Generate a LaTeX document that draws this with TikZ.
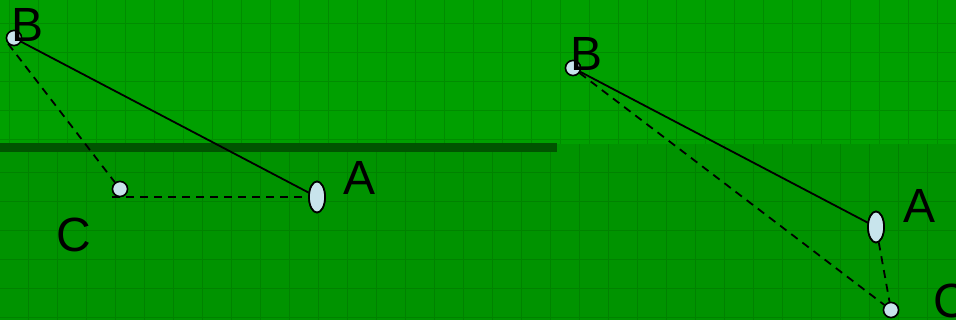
\documentclass[tikz,border=0pt]{standalone}
\usepackage{fontspec}
\setmainfont{Liberation Sans}
\usetikzlibrary{shapes.geometric}
\definecolor{bgup}{RGB}{0,160,0}
\definecolor{bglow}{RGB}{0,147,0}
\definecolor{gridup}{RGB}{0,140,0}
\definecolor{gridlow}{RGB}{0,130,0}
\definecolor{band}{RGB}{0,84,0}
\definecolor{pt}{RGB}{200,228,236}
\tikzset{
  dot/.style={circle,draw=black,line width=1.5pt,fill=pt,minimum size=15pt,inner sep=0pt},
  oval/.style={ellipse,draw=black,line width=1.7pt,fill=pt,minimum width=16pt,minimum height=31pt,inner sep=0pt},
  lbl/.style={font=\fontsize{48}{48}\selectfont,inner sep=0pt,text=black},
  link/.style={black,line width=1.8pt},
  dlink/.style={black,line width=1.8pt,dash pattern=on 8pt off 6pt}
}
\begin{document}
\begin{tikzpicture}[x=1pt,y=-1pt]
\useasboundingbox (0,0) rectangle (956,320);
% background
\fill[bgup] (0,0) rectangle (956,144);
\fill[bglow] (0,144) rectangle (956,320);
\begin{scope}
\clip (0,0) rectangle (956,144);
\foreach \x in {9,38,...,960} \draw[gridup,line width=1pt] (\x,0) -- (\x,144);
\foreach \y in {24,53,...,140} \draw[gridup,line width=1pt] (0,\y) -- (956,\y);
\end{scope}
\begin{scope}
\clip (0,144) rectangle (956,320);
\foreach \x in {-1,28,...,960} \draw[gridlow,line width=1pt] (\x,144) -- (\x,320);
\foreach \y in {173,202,...,320} \draw[gridlow,line width=1pt] (0,\y) -- (956,\y);
\end{scope}
\fill[band] (0,143) rectangle (557,152);

% left figure
\node[dot] (B1) at (14,38) {};
\node[dot] (C1) at (120,189) {};
\node[oval] (A1) at (317,197) {};
\coordinate (c1a) at (112,197);
\draw[link] (B1) -- (A1);
\draw[dlink] (B1.south west) -- (C1);
\draw[dlink] (c1a) -- (A1.east);
\node[dot] at (B1) {};
\node[dot] at (C1) {};
\node[oval] at (A1) {};
\node[lbl] (lB1) at (27.5,25) {B};
\node[lbl] (lA1) at (360,178) {A};
\node[lbl] (lC1) at (74,235) {C};

% right figure
\node[dot] (B2) at (573,68) {};
\node[oval] (A2) at (876,227) {};
\node[dot] (C2) at (891,310) {};
\draw[link] (B2) -- (A2);
\draw[dlink] (B2) -- (C2);
\draw[dlink] (A2) -- (C2);
\node[dot] at (B2) {};
\node[oval] at (A2) {};
\node[dot] at (C2) {};
\node[lbl] (lB2) at (587,54) {B};
\node[lbl] (lA2) at (919,206) {A};
\node[lbl] (lC2) at (951,301) {C};
\end{tikzpicture}
\end{document}
